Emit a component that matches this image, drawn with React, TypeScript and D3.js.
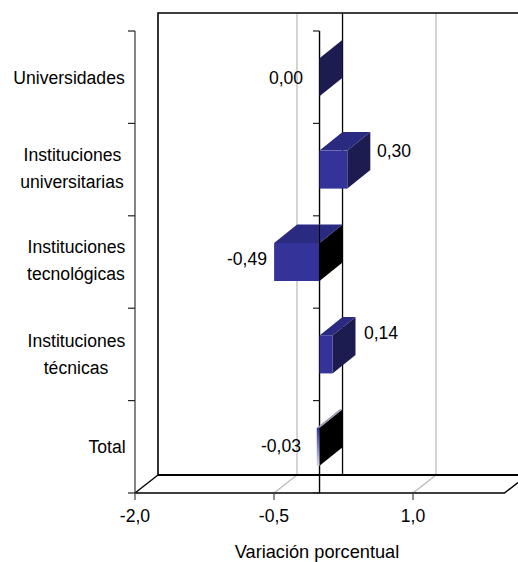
import React from "react";
import * as d3 from "d3";

const categories = [["Universidades"], ["Instituciones", "universitarias"], ["Instituciones", "tecnológicas"], ["Instituciones", "técnicas"], ["Total"]];
const categoryKeys = ["Universidades", "universitarias", "tecnológicas", "técnicas", "Total"];
const values = [0.0, 0.3, -0.49, 0.14, -0.03];
const valueLabels = ["0,00", "0,30", "-0,49", "0,14", "-0,03"];
const xTicks = [-2.0, -0.5, 1.0];
const xTickLabels = ["-2,0", "-0,5", "1,0"];
const xTitle = "Variación porcentual";

const W = 518, H = 562;
const x = d3.scaleLinear().domain([-2, 1]).range([135, 413]);
const yBand = d3.scaleBand().domain(categoryKeys).range([31, 493]);
const dx = 23, dy = -18.5;
const front = "#333399", topC = "#2a2a80", sideC = "#1c1c50";
const FONT = "'Liberation Sans', Arial, sans-serif";
const FS = 17.6;
const pts = (p: number[][]) => p.map((q) => q.join(",")).join(" ");

const labelPos = [
  { x: 286, y: 84 }, { x: 394, y: 157 }, { x: 247, y: 265 }, { x: 381, y: 339 }, { x: 281, y: 452 },
];
const catCentres = [[69], [72.5, 72], [76.5, 76], [76.5, 76], [107]];
const catShift = [1, -1, -2, 0, 0];

export default function App() {
  const x0 = x(0) - 0.8;
  const top = 13, floor = 475, base = 493;
  return (
    <svg width={W} height={H} viewBox={`0 0 ${W} ${H}`} style={{ position: "absolute", left: 0, top: 0, background: "#fff" }} fontFamily={FONT}>
      <defs>
        <linearGradient id="fade" x1="0" y1="0" x2="0" y2="1">
          <stop offset="0" stopColor={front} />
          <stop offset="1" stopColor="#d8d8e8" />
        </linearGradient>
      </defs>
      {/* gridlines */}
      {xTicks.slice(1).map((t) => (
        <g key={t} stroke="#b8b8b8" strokeWidth={1.2} fill="none">
          <line x1={x(t) + dx} x2={x(t) + dx} y1={top} y2={floor} />
          <line x1={x(t)} x2={x(t) + dx} y1={base} y2={floor} />
        </g>
      ))}
      {/* back zero line */}
      <line x1={x0 + dx} x2={x0 + dx} y1={top} y2={floor} stroke="#000" strokeWidth={1.3} />
      {/* walls */}
      <g stroke="#000" fill="none">
        <path d={`M${x(-2) + dx},${floor} V${top} H${W}`} strokeWidth={1.6} />
        <line x1={x(-2) + dx} x2={W} y1={floor} y2={floor} strokeWidth={2} />
        <line x1={x(-2)} x2={x(-2) + dx} y1={base} y2={floor} strokeWidth={1.4} />
        <path d={`M${x(-2)},${base} H504.5 L${W},482.5`} strokeWidth={1.4} />
        <line x1={x(-2)} x2={x(-2)} y1={31} y2={base} stroke="#333" strokeWidth={1.2} />
        <line x1={x0} x2={x0} y1={31} y2={base} strokeWidth={1.4} />
      </g>
      {/* category ticks */}
      {[31, ...categoryKeys.map((c) => (yBand(c) as number) + yBand.bandwidth())].map((y) => (
        <g key={y} stroke="#222" strokeWidth={1.2}>
          <line x1={128} x2={x(-2)} y1={y} y2={y} />
          <line x1={313} x2={x0} y1={y} y2={y} />
        </g>
      ))}
      {/* x ticks */}
      {xTicks.map((t, i) => (
        <g key={t}>
          <line x1={x(t)} x2={x(t)} y1={base} y2={base + 7} stroke="#444" strokeWidth={1.2} />
          <text x={x(t)} y={522} textAnchor="middle" fontSize={FS} fill="#000">{xTickLabels[i]}</text>
        </g>
      ))}
      {/* bars */}
      {values.map((v, i) => {
        const c = categoryKeys[i];
        const cy = (yBand(c) as number) + yBand.bandwidth() / 2;
        const y0 = cy - 19, y1 = cy + 19;
        const xv = x(v) - 0.8;
        const xa = v < 0 ? xv : x0, xb = v < 0 ? x0 : xv;
        const side = v < 0 ? "#000" : sideC;
        const small = v < 0 && v > -0.1;
        return (
          <g key={c}>
            <polygon points={pts([[xb, y0], [xb + dx, y0 + dy], [xb + dx, y1 + dy], [xb, y1]])} fill={side} />
            {v !== 0 && (
              <>
                <polygon points={pts([[xa, y0], [xb, y0], [xb + dx, y0 + dy], [xa + dx, y0 + dy]])} fill={small ? "#9a9ab0" : topC} />
                <rect x={xa} y={y0} width={xb - xa} height={y1 - y0} fill={small ? "url(#fade)" : front} />
              </>
            )}
          </g>
        );
      })}
      {/* zero line over the negative bar */}
      <line x1={x0} x2={x0} y1={225} y2={282} stroke="#000" strokeWidth={1} />
      {/* value labels */}
      {valueLabels.map((l, i) => (
        <text key={l} x={labelPos[i].x} y={labelPos[i].y} textAnchor="middle" fontSize={FS} fill="#000">{l}</text>
      ))}
      {/* category labels */}
      {categories.map((lines, i) => {
        const cy = (yBand(categoryKeys[i]) as number) + yBand.bandwidth() / 2;
        return (
          <text key={i} textAnchor="middle" fontSize={FS} fill="#000">
            {lines.map((t, j) => (
              <tspan key={j} x={catCentres[i][j]} y={cy + 6 + catShift[i] + (j - (lines.length - 1) / 2) * 27}>{t}</tspan>
            ))}
          </text>
        );
      })}
      <text x={317} y={558} textAnchor="middle" fontSize={18.2} fill="#000">{xTitle}</text>
    </svg>
  );
}
